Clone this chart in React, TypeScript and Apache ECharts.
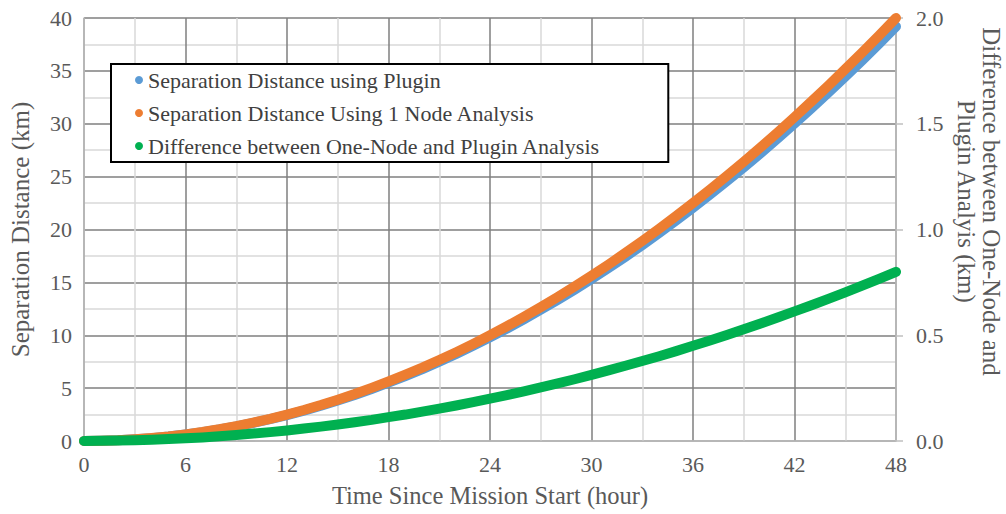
import React, { useEffect, useRef } from "react";
import * as echarts from "echarts";

const hours = [
  0, 1, 2, 3, 4, 5, 6, 7, 8, 9, 10, 11, 12, 13, 14, 15, 16, 17, 18, 19, 20, 21, 22, 23, 24,
  25, 26, 27, 28, 29, 30, 31, 32, 33, 34, 35, 36, 37, 38, 39, 40, 41, 42, 43, 44, 45, 46, 47, 48,
];

const pluginKm = [
  0, 0.02, 0.07, 0.16, 0.27, 0.42, 0.62, 0.83, 1.09, 1.38, 1.71, 2.06, 2.45, 2.87, 3.33, 3.83,
  4.35, 4.92, 5.52, 6.14, 6.8, 7.51, 8.23, 9.0, 9.8, 10.63, 11.51, 12.41, 13.34, 14.31, 15.32,
  16.35, 17.42, 18.53, 19.67, 20.85, 22.05, 23.3, 24.57, 25.88, 27.22, 28.6, 30.02, 31.46, 32.94,
  34.46, 36.0, 37.58, 39.2,
];

const oneNodeKm = [
  0, 0.02, 0.07, 0.16, 0.28, 0.43, 0.63, 0.85, 1.11, 1.41, 1.74, 2.1, 2.5, 2.93, 3.4, 3.91, 4.44,
  5.02, 5.63, 6.27, 6.94, 7.66, 8.4, 9.18, 10.0, 10.85, 11.74, 12.66, 13.61, 14.6, 15.63, 16.68,
  17.78, 18.91, 20.07, 21.27, 22.5, 23.77, 25.07, 26.41, 27.78, 29.18, 30.63, 32.1, 33.61, 35.16,
  36.74, 38.35, 40.0,
];

const diffKm = [
  0, 0.001, 0.002, 0.004, 0.006, 0.009, 0.013, 0.017, 0.022, 0.028, 0.035, 0.042, 0.05, 0.059,
  0.068, 0.078, 0.089, 0.1, 0.113, 0.125, 0.139, 0.153, 0.168, 0.184, 0.2, 0.217, 0.235, 0.253,
  0.272, 0.292, 0.313, 0.334, 0.356, 0.378, 0.401, 0.425, 0.45, 0.475, 0.501, 0.528, 0.556, 0.584,
  0.613, 0.642, 0.672, 0.703, 0.735, 0.767, 0.8,
];

const seriesNames = [
  "Separation Distance using Plugin",
  "Separation Distance Using 1 Node Analysis",
  "Difference between One-Node and Plugin Analysis",
];
const seriesColors = ["#5B9BD5", "#ED7D31", "#00B050"];

const FONT = "'Liberation Serif', 'Times New Roman', serif";
const TICK_COLOR = "#595959";
const AXIS_GRAY = "#BFBFBF";
const MAJOR_GRID = "#7F7F7F";
const MINOR_GRID = "#D9D9D9";

export default function App() {
  const ref = useRef<HTMLDivElement>(null);

  useEffect(() => {
    if (!ref.current) return;
    const chart = echarts.init(ref.current, undefined, { renderer: "svg" });
    const pairs = (ys: number[]) => hours.map((h, i) => [h, ys[i]]);
    const lineSeries = (idx: number, ys: number[], yAxisIndex: number) => ({
      name: seriesNames[idx],
      type: "line",
      xAxisIndex: 0,
      yAxisIndex,
      data: pairs(ys),
      showSymbol: false,
      symbol: "circle",
      smooth: false,
      color: seriesColors[idx],
      lineStyle: { width: 10, color: seriesColors[idx], cap: "round", join: "round" },
      z: 3 + idx,
    });

    const gridOnly = {
      axisLine: { show: false },
      axisTick: { show: false },
      axisLabel: { show: false },
      splitLine: { show: true, lineStyle: { color: MAJOR_GRID, width: 1.5 } },
      minorTick: { show: false, splitNumber: 2 },
      minorSplitLine: { show: true, lineStyle: { color: MINOR_GRID, width: 1.5 } },
      z: 0,
    };

    chart.setOption({
      animation: false,
      backgroundColor: "#ffffff",
      textStyle: { fontFamily: FONT },
      grid: {
        left: 84,
        right: 110,
        top: 18,
        bottom: 73,
        containLabel: false,
        outerBoundsMode: "none",
      },
      legend: {
        orient: "vertical",
        left: 111,
        top: 64,
        data: seriesNames.map((n) => ({ name: n, icon: "circle" })),
        itemWidth: 8,
        itemHeight: 8,
        itemGap: 11,
        padding: [5, 68, 5, 24],
        backgroundColor: "#ffffff",
        borderColor: "#000000",
        borderWidth: 2,
        borderRadius: 0,
        textStyle: { fontFamily: FONT, fontSize: 22, color: "#404040" },
        z: 10,
      },
      xAxis: [
        {
          type: "value",
          min: 0,
          max: 48,
          interval: 6,
          name: "Time Since Mission Start (hour)",
          nameLocation: "middle",
          nameGap: 42,
          nameTextStyle: { fontFamily: FONT, fontSize: 24.5, color: TICK_COLOR },
          axisLine: { show: true, onZero: false, lineStyle: { color: AXIS_GRAY, width: 1.5 } },
          axisTick: { show: false },
          axisLabel: { fontFamily: FONT, fontSize: 22, color: TICK_COLOR, margin: 12 },
          splitLine: { show: false },
          z: 2,
        },
        {
          type: "value",
          position: "top",
          min: 0,
          max: 48,
          interval: 6,
          ...gridOnly,
        },
      ],
      yAxis: [
        {
          type: "value",
          position: "left",
          min: 0,
          max: 40,
          interval: 5,
          name: "Separation Distance (km)",
          nameLocation: "middle",
          nameRotate: 90,
          nameGap: 51,
          nameTextStyle: { fontFamily: FONT, fontSize: 25, color: TICK_COLOR },
          axisLine: { show: true, onZero: false, lineStyle: { color: AXIS_GRAY, width: 1.5 } },
          axisTick: { show: false },
          axisLabel: { fontFamily: FONT, fontSize: 22, color: TICK_COLOR, margin: 12 },
          splitLine: { show: false },
          z: 2,
        },
        {
          type: "value",
          position: "right",
          min: 0,
          max: 2,
          interval: 0.5,
          name: "Difference between One-Node and\nPlugin Analyis (km)",
          nameLocation: "middle",
          nameRotate: -90,
          nameGap: 54,
          nameTextStyle: {
            fontFamily: FONT,
            fontSize: 25,
            color: TICK_COLOR,
            lineHeight: 25,
            padding: [0, 56, 0, 0],
          },
          axisLine: { show: true, onZero: false, lineStyle: { color: AXIS_GRAY, width: 1.5 } },
          axisTick: { show: true, length: 7, lineStyle: { color: AXIS_GRAY, width: 1.5 } },
          axisLabel: {
            fontFamily: FONT,
            fontSize: 22,
            color: TICK_COLOR,
            margin: 20,
            formatter: (v: number) => v.toFixed(1),
          },
          splitLine: { show: false },
          z: 2,
        },
        {
          type: "value",
          position: "left",
          min: 0,
          max: 40,
          interval: 5,
          ...gridOnly,
        },
      ],
      series: [
        lineSeries(0, pluginKm, 0),
        lineSeries(1, oneNodeKm, 0),
        lineSeries(2, diffKm, 1),
      ],
    });

    return () => chart.dispose();
  }, []);

  return (
    <div
      ref={ref}
      style={{ position: "absolute", left: 0, top: 0, width: 1006, height: 514 }}
    />
  );
}
